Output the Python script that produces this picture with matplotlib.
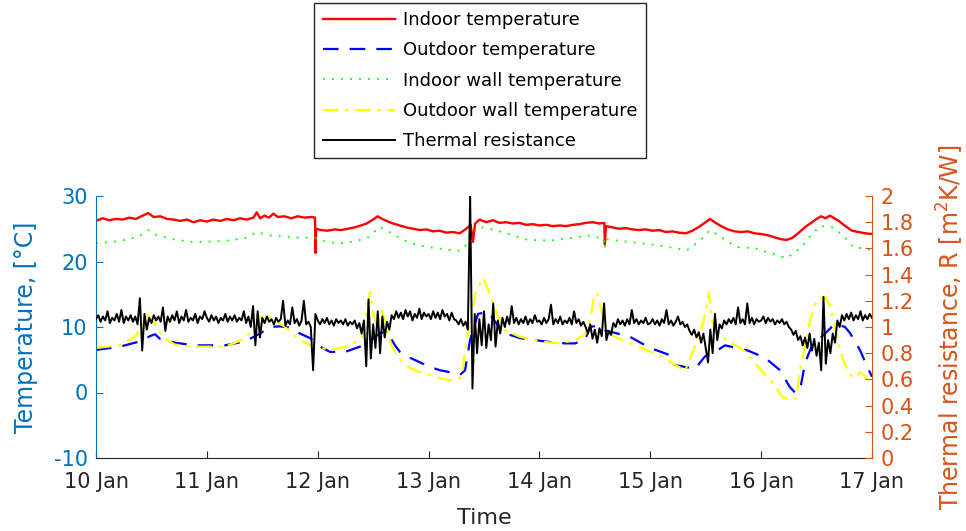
import matplotlib
matplotlib.use('Agg')
import matplotlib.pyplot as plt

plt.rcParams['font.family'] = ['DejaVu Sans']
plt.rcParams['axes.unicode_minus'] = False

# ---------------- data (time in days since 10 Jan 00:00) ----------------
day_ticks = [0, 1, 2, 3, 4, 5, 6, 7]
day_labels = ['10 Jan', '11 Jan', '12 Jan', '13 Jan', '14 Jan', '15 Jan', '16 Jan', '17 Jan']
temp_ticks = [-10, 0, 10, 20, 30]
r_ticks = [0, 0.2, 0.4, 0.6, 0.8, 1.0, 1.2, 1.4, 1.6, 1.8, 2.0]
r_tick_labels = ['0', '0.2', '0.4', '0.6', '0.8', '1', '1.2', '1.4', '1.6', '1.8', '2']

indoor_t = [0.00, 0.06, 0.12, 0.18, 0.24, 0.30, 0.36, 0.42, 0.47, 0.52, 0.58, 0.64, 0.70, 0.76,
            0.82, 0.88, 0.94, 1.00, 1.06, 1.12, 1.18, 1.24, 1.30, 1.36, 1.42, 1.45, 1.48, 1.52,
            1.56, 1.60, 1.64, 1.70, 1.76, 1.82, 1.88, 1.94, 1.975, 1.98, 1.985, 2.03, 2.09, 2.15,
            2.21, 2.27, 2.33, 2.39, 2.44, 2.50, 2.54, 2.58, 2.62, 2.68, 2.74, 2.80, 2.86, 2.92,
            2.98, 3.04, 3.10, 3.16, 3.22, 3.28, 3.34, 3.38, 3.40, 3.42, 3.46, 3.52, 3.58, 3.64,
            3.70, 3.76, 3.82, 3.88, 3.94, 4.00, 4.06, 4.12, 4.18, 4.24, 4.30, 4.36, 4.42, 4.48,
            4.54, 4.585, 4.59, 4.60, 4.66, 4.72, 4.78, 4.84, 4.90, 4.96, 5.02, 5.08, 5.14, 5.20,
            5.26, 5.32, 5.38, 5.44, 5.50, 5.54, 5.58, 5.64, 5.70, 5.76, 5.82, 5.88, 5.94, 6.00,
            6.06, 6.12, 6.18, 6.23, 6.28, 6.34, 6.40, 6.46, 6.50, 6.54, 6.58, 6.62, 6.66, 6.70,
            6.76, 6.82, 6.88, 6.94, 7.00]
indoor_temp = [26.2, 26.6, 26.3, 26.5, 26.4, 26.7, 26.5, 27.0, 27.4, 26.8, 26.9, 26.5, 26.4, 26.2,
               26.4, 26.0, 26.3, 26.1, 26.4, 26.2, 26.5, 26.3, 26.6, 26.4, 26.7, 27.5, 26.6, 27.0,
               26.7, 27.3, 26.8, 26.9, 26.6, 26.9, 26.7, 26.8, 26.7, 21.3, 25.0, 24.8, 24.7, 24.9,
               24.8, 25.0, 25.2, 25.5, 25.8, 26.4, 26.9, 26.5, 26.2, 25.8, 25.5, 25.2, 25.0, 24.8,
               24.9, 24.6, 24.7, 24.4, 24.5, 24.3, 25.0, 25.6, 23.0, 25.8, 26.4, 26.0, 26.3, 25.9,
               26.0, 25.8, 25.9, 25.6, 25.7, 25.5, 25.6, 25.4, 25.5, 25.4, 25.6, 25.7, 25.9, 26.0,
               25.8, 25.9, 22.6, 25.4, 25.2, 25.0, 25.1, 24.9, 24.8, 24.9, 24.7, 24.8, 24.5, 24.6,
               24.4, 24.3, 24.7, 25.3, 26.0, 26.5, 26.0, 25.4, 24.9, 24.6, 24.5, 24.6, 24.3, 24.2,
               24.0, 23.7, 23.4, 23.3, 23.6, 24.4, 25.3, 26.0, 26.5, 26.9, 26.6, 27.0, 26.6, 26.2,
               25.4, 24.7, 24.5, 24.3, 24.2]

wall_in_t = [0.00, 0.15, 0.30, 0.40, 0.47, 0.55, 0.70, 0.85, 1.00, 1.20, 1.35, 1.45, 1.55, 1.75,
             1.98, 2.10, 2.25, 2.44, 2.56, 2.70, 2.83, 3.00, 3.26, 3.32, 3.38, 3.46, 3.60, 3.80,
             3.89, 4.10, 4.30, 4.43, 4.58, 4.59, 4.60, 4.70, 4.91, 5.10, 5.33, 5.45, 5.54, 5.65,
             5.78, 5.95, 6.10, 6.23, 6.35, 6.45, 6.53, 6.65, 6.75, 6.83, 6.92, 7.00]
wall_in_temp = [22.8, 23.0, 23.4, 24.0, 24.8, 24.0, 23.4, 23.0, 23.0, 23.2, 23.6, 24.5, 24.0, 23.7,
                23.6, 22.9, 22.8, 23.5, 25.3, 24.0, 22.8, 22.2, 21.6, 22.0, 24.0, 25.3, 24.8, 23.8,
                23.3, 23.2, 23.6, 24.0, 23.5, 22.0, 23.4, 23.2, 22.8, 22.4, 21.7, 23.2, 24.8, 23.6,
                22.2, 22.0, 21.2, 20.5, 22.0, 24.0, 25.4, 25.2, 23.8, 22.2, 22.0, 21.7]

outdoor_t = [0.000, 0.216, 0.396, 0.487, 0.532, 0.577, 0.712, 0.893, 1.164, 1.344, 1.479, 1.569,
             1.660, 1.750, 1.840, 1.931, 2.021, 2.111, 2.247, 2.382, 2.507, 2.571, 2.652, 2.697,
             2.742, 2.833, 2.923, 3.013, 3.103, 3.193, 3.284, 3.329, 3.374, 3.446, 3.536, 3.644,
             3.734, 3.825, 3.960, 4.096, 4.231, 4.321, 4.411, 4.456, 4.519, 4.591, 4.817, 4.998,
             5.178, 5.223, 5.403, 5.493, 5.611, 5.674, 5.881, 6.035, 6.170, 6.260, 6.305, 6.350,
             6.396, 6.459, 6.576, 6.666, 6.756, 6.801, 6.891, 6.950, 7.000]
outdoor_temp = [6.5, 7.0, 7.8, 8.6, 8.9, 8.2, 7.6, 7.2, 7.2, 7.8, 9.0, 10.0,
                10.1, 9.9, 9.0, 8.3, 7.0, 6.2, 6.2, 7.0, 8.3, 9.2, 8.5, 7.2,
                6.2, 5.3, 4.6, 3.9, 3.4, 3.1, 2.7, 3.4, 8.0, 12.0, 12.3, 9.8,
                8.8, 8.3, 8.0, 7.7, 7.5, 7.5, 8.0, 10.0, 10.2, 9.5, 8.5, 6.8,
                5.7, 4.2, 3.6, 5.5, 6.5, 7.2, 6.4, 5.3, 3.4, 0.8, 0.0, 0.3,
                4.5, 7.2, 9.0, 10.5, 10.0, 9.1, 6.5, 4.2, 2.4]

wall_out_t = [0.000, 0.216, 0.352, 0.415, 0.469, 0.532, 0.595, 0.712, 0.893, 1.164, 1.344, 1.434,
              1.506, 1.569, 1.705, 1.840, 1.975, 2.156, 2.291, 2.399, 2.471, 2.507, 2.543, 2.580,
              2.616, 2.670, 2.742, 2.833, 2.923, 3.013, 3.103, 3.193, 3.266, 3.302, 3.338, 3.374,
              3.428, 3.491, 3.554, 3.617, 3.689, 3.825, 4.050, 4.186, 4.321, 4.411, 4.456, 4.492,
              4.519, 4.546, 4.582, 4.636, 4.681, 4.907, 5.088, 5.268, 5.313, 5.403, 5.448, 5.493,
              5.529, 5.556, 5.592, 5.646, 5.737, 5.854, 6.035, 6.125, 6.188, 6.260, 6.314, 6.350,
              6.396, 6.441, 6.486, 6.531, 6.576, 6.621, 6.666, 6.711, 6.756, 6.801, 6.847, 6.892,
              6.937, 7.000]
wall_out_temp = [6.8, 7.2, 8.5, 10.0, 11.8, 10.5, 8.5, 7.3, 7.0, 7.0, 8.2, 10.0,
                 12.0, 11.5, 10.0, 8.0, 6.8, 6.6, 7.1, 8.5, 15.3, 11.5, 10.0, 12.5,
                 10.0, 7.0, 5.0, 3.7, 3.1, 2.7, 2.2, 1.9, 1.9, 2.8, 7.5, 11.0,
                 15.5, 17.5, 15.0, 12.0, 9.5, 8.5, 7.7, 7.5, 8.0, 8.8, 11.0, 14.5,
                 15.2, 13.5, 11.0, 9.0, 8.5, 6.9, 5.6, 3.8, 3.3, 7.0, 9.0, 11.8,
                 15.2, 11.0, 9.5, 8.5, 7.5, 6.3, 2.7, 1.0, -0.6, -1.2, -0.9, 3.4,
                 7.2, 11.0, 13.4, 14.4, 14.6, 13.2, 10.0, 6.5, 4.2, 2.7, 2.2, 3.1,
                 2.5, 1.1]

# thermal resistance, every half hour from 10 Jan 00:00 to 17 Jan 00:00 [m2K/W]
resistance = [
    # 10 Jan
    1.06, 1.09, 1.04, 1.08, 1.05, 1.12, 1.03, 1.07, 1.05, 1.10, 1.04, 1.13,
    1.03, 1.08, 1.05, 1.09, 1.04, 1.08, 1.02, 1.22, 0.82, 1.10, 0.98, 1.07,
    1.03, 1.09, 1.05, 1.08, 1.04, 1.15, 0.97, 1.08, 1.04, 1.09, 1.05, 1.12,
    1.03, 1.08, 1.05, 1.13, 1.04, 1.07, 1.05, 1.10, 1.03, 1.08, 1.06, 1.12,
    # 11 Jan
    1.07, 1.04, 1.09, 1.05, 1.08, 1.03, 1.07, 1.05, 1.10, 1.04, 1.08, 1.05,
    1.09, 1.04, 1.07, 1.05, 1.12, 1.03, 1.08, 1.00, 1.16, 0.86, 1.12, 0.92,
    1.07, 1.03, 1.08, 1.04, 1.06, 1.02, 1.07, 1.04, 1.06, 1.20, 1.01, 1.05,
    1.02, 1.15, 1.03, 1.06, 1.01, 1.05, 1.20, 1.02, 1.04, 1.00, 0.67, 1.10,
    # 12 Jan
    1.05, 1.02, 1.06, 1.03, 1.07, 1.02, 1.05, 1.01, 1.06, 1.03, 1.05, 1.02,
    1.06, 1.01, 1.04, 1.02, 1.05, 0.99, 1.03, 0.95, 1.05, 0.70, 1.21, 0.76,
    1.02, 0.84, 1.12, 0.80, 1.08, 0.92, 1.04, 0.98, 1.09, 1.06, 1.12, 1.07,
    1.11, 1.06, 1.13, 1.08, 1.12, 1.05, 1.10, 1.07, 1.14, 1.06, 1.11, 1.08,
    # 13 Jan
    1.10, 1.06, 1.12, 1.07, 1.11, 1.06, 1.13, 1.08, 1.10, 1.05, 1.11, 1.06,
    1.05, 1.02, 1.06, 1.01, 1.04, 0.98, 2.00, 0.53, 1.10, 0.80, 1.06, 0.86,
    1.12, 0.84, 1.02, 0.90, 1.18, 0.85, 1.05, 0.95, 1.07, 1.00, 1.08, 1.02,
    1.16, 1.03, 1.07, 1.02, 1.06, 1.03, 1.08, 1.02, 1.06, 1.03, 1.09, 1.04,
    # 14 Jan
    1.05, 1.02, 1.07, 1.03, 1.06, 1.17, 1.02, 1.06, 1.03, 1.08, 1.02, 1.05,
    1.03, 1.07, 1.02, 1.12, 1.03, 1.06, 1.01, 1.04, 1.00, 0.95, 1.02, 0.91,
    0.98, 0.88, 0.99, 0.93, 1.18, 0.90, 0.97, 0.94, 1.03, 1.00, 1.06, 1.02,
    1.05, 1.01, 1.06, 1.02, 1.13, 1.03, 1.06, 1.02, 1.05, 1.03, 1.07, 1.02,
    # 15 Jan
    1.03, 1.06, 1.02, 1.05, 1.01, 1.06, 1.03, 1.13, 1.02, 1.05, 1.01, 1.04,
    1.08, 1.02, 1.04, 1.00, 1.02, 0.97, 0.94, 0.98, 0.92, 0.96, 0.88, 0.95,
    0.84, 0.73, 0.98, 0.80, 1.10, 0.90, 1.02, 0.99, 1.05, 1.02, 1.06, 1.03,
    1.07, 1.02, 1.15, 1.03, 1.06, 1.02, 1.18, 1.03, 1.07, 1.02, 1.06, 1.04,
    # 16 Jan
    1.05, 1.08, 1.03, 1.07, 1.04, 1.06, 1.02, 1.05, 1.03, 1.06, 1.02, 1.04,
    1.00, 0.98, 0.94, 0.97, 0.90, 0.93, 0.86, 0.92, 0.84, 0.95, 0.82, 0.91,
    0.78, 0.88, 0.67, 1.23, 0.72, 0.90, 0.80, 0.95, 0.88, 1.05, 1.00, 1.09,
    1.05, 1.10, 1.06, 1.11, 1.05, 1.09, 1.06, 1.12, 1.05, 1.09, 1.06, 1.10,
    # 17 Jan 00:00
    1.07]
resistance_t = [k / 48 for k in range(len(resistance))]

# ---------------- styling ----------------
BLUE_AX = '#0072BD'
ORANGE_AX = '#D95319'
DARK = '#262626'

fig = plt.figure(figsize=(9.66, 5.31), dpi=100)
ax1 = fig.add_axes([96 / 966, 1 - 458 / 531, 776 / 966, 262 / 531])
ax2 = ax1.twinx()

l1, = ax1.plot(indoor_t, indoor_temp, color='#FF0000', lw=1.7, label='Indoor temperature')
l2, = ax1.plot(outdoor_t, outdoor_temp, color='#0000FF', lw=1.6, linestyle=(0, (7, 5)),
               label='Outdoor temperature')
l3, = ax1.plot(wall_in_t, wall_in_temp, color='#00FF00', lw=1.3, linestyle=(0, (1, 4)),
               label='Indoor wall temperature')
l4, = ax1.plot(wall_out_t, wall_out_temp, color='#FFFF00', lw=1.6, linestyle=(0, (7, 3, 1.5, 3)),
               label='Outdoor wall temperature')
l5, = ax2.plot(resistance_t, resistance, color='black', lw=1.4, label='Thermal resistance')

ax1.set_xlim(0, 7)
ax1.set_ylim(-10, 30)
ax2.set_ylim(0, 2)
ax1.set_xticks(day_ticks)
ax1.set_xticklabels(day_labels)
ax1.set_yticks(temp_ticks)
ax2.set_yticks(r_ticks)
ax2.set_yticklabels(r_tick_labels)

for s in ['top', 'right']:
    ax1.spines[s].set_visible(False)
for s in ['top', 'left', 'bottom']:
    ax2.spines[s].set_visible(False)
ax1.spines['left'].set_color(BLUE_AX)
ax1.spines['bottom'].set_color(DARK)
ax2.spines['right'].set_color(ORANGE_AX)

ax1.tick_params(axis='x', direction='in', length=5, colors=DARK, labelsize=15, pad=10)
ax1.tick_params(axis='y', direction='in', length=5, colors=BLUE_AX, labelsize=15, pad=6)
ax2.tick_params(axis='y', direction='in', length=5, colors=ORANGE_AX, labelsize=15, pad=6)

ax1.set_xlabel('Time', fontsize=16, color=DARK)
ax1.xaxis.set_label_coords(0.5, -0.19)
ax1.set_ylabel('Temperature, [°C]', fontsize=17, color=BLUE_AX)
ax1.yaxis.set_label_coords(-0.075, 0.5)
ax2.set_ylabel('Thermal resistance, R [m$^2$K/W]', fontsize=17, color=ORANGE_AX)
ax2.yaxis.set_label_coords(1.081, 0.5)

leg = fig.legend(handles=[l1, l2, l3, l4, l5], loc='upper center',
                 bbox_to_anchor=(480 / 966, 1 - 3 / 531), borderaxespad=0, fontsize=13,
                 frameon=True, fancybox=False, edgecolor=DARK, framealpha=1,
                 handlelength=4.0, handletextpad=0.45, labelspacing=0.68, borderpad=0.45)
leg.get_frame().set_linewidth(1.0)

fig.savefig('out.png', dpi=100)
